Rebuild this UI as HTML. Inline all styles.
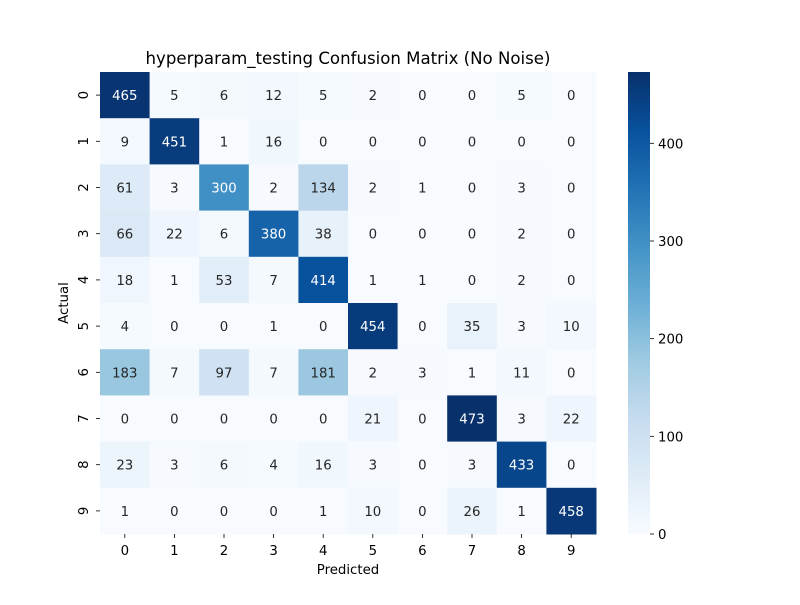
<!DOCTYPE html>
<html><head><meta charset="utf-8"><style>
body{margin:0;background:#fff;}
svg text{font-family:"DejaVu Sans","Liberation Sans",sans-serif;}
</style></head><body>
<svg id="chart" width="800" height="600" xmlns="http://www.w3.org/2000/svg">
<rect width="800" height="600" fill="#fff"/>
<text x="348" y="64" font-size="16.6" text-anchor="middle" fill="#000">hyperparam_testing Confusion Matrix (No Noise)</text>
<text x="348" y="574" font-size="13.3" text-anchor="middle" fill="#000">Predicted</text>
<text x="0" y="0" font-size="13.3" text-anchor="middle" fill="#000" transform="translate(68,303) rotate(-90)">Actual</text>
<g id="cells"></g><g id="axes"></g><g id="cbar"></g>
</svg>
<script>
const xLabels=["0","1","2","3","4","5","6","7","8","9"];
const yLabels=["0","1","2","3","4","5","6","7","8","9"];
const matrix=[
[465,5,6,12,5,2,0,0,5,0],
[9,451,1,16,0,0,0,0,0,0],
[61,3,300,2,134,2,1,0,3,0],
[66,22,6,380,38,0,0,0,2,0],
[18,1,53,7,414,1,1,0,2,0],
[4,0,0,1,0,454,0,35,3,10],
[183,7,97,7,181,2,3,1,11,0],
[0,0,0,0,0,21,0,473,3,22],
[23,3,6,4,16,3,0,3,433,0],
[1,0,0,0,1,10,0,26,1,458]];
const cbarTicks=[0,100,200,300,400];
const vmin=0,vmax=473;
const NS="http://www.w3.org/2000/svg";
const L=100,T=72,W=496,H=462;
const cw=W/xLabels.length,ch=H/yLabels.length;
const stops=["#f7fbff","#deebf7","#c6dbef","#9ecae1","#6baed6","#4292c6","#2171b5","#08519c","#08306b"].map(h=>[1,3,5].map(i=>parseInt(h.substr(i,2),16)));
function color(v){let t=Math.max(0,Math.min(1,(v-vmin)/(vmax-vmin)))*(stops.length-1);let i=Math.min(Math.floor(t),stops.length-2),f=t-i;const c=stops[i].map((a,k)=>Math.round(a+(stops[i+1][k]-a)*f));return `rgb(${c})`;}
function xPos(j){return L+j*cw;}
function yPos(i){return T+i*ch;}
function mk(tag,attrs,parent){const e=document.createElementNS(NS,tag);for(const k in attrs)e.setAttribute(k,attrs[k]);parent.appendChild(e);return e;}
const cells=document.getElementById('cells'),axes=document.getElementById('axes'),cb=document.getElementById('cbar');
matrix.forEach((row,i)=>row.forEach((v,j)=>{
 const r=mk('rect',{x:xPos(j),y:yPos(i),width:cw+0.5,height:ch+0.5,fill:color(v)},cells);
 
 
 const t=mk('text',{x:xPos(j)+cw/2,y:yPos(i)+ch/2+5,'font-size':13.3,'text-anchor':'middle',fill:v/vmax>0.5?'#fff':'#262626'},cells);
 t.textContent=v;
 
 
}));
xLabels.forEach((lab,j)=>{
 const x=xPos(j)+cw/2;
 mk('line',{x1:x,x2:x,y1:T+H,y2:T+H+4,stroke:'#000','stroke-width':0.8},axes);
 const t=mk('text',{x:x,y:T+H+21,'font-size':13.3,'text-anchor':'middle'},axes);t.textContent=lab;
 
 
});
yLabels.forEach((lab,i)=>{
 const y=yPos(i)+ch/2;
 mk('line',{x1:L-4,x2:L,y1:y,y2:y,stroke:'#000','stroke-width':0.8},axes);
 const t=mk('text',{x:0,y:0,'font-size':13.3,'text-anchor':'middle',transform:`translate(${L-12},${y}) rotate(-90)`},axes);t.textContent=lab;
 
 
});
const cx=628,cwid=22;
const grad=mk('linearGradient',{id:'g',x1:0,y1:1,x2:0,y2:0},mk('defs',{},cb));
stops.forEach((s,k)=>mk('stop',{offset:k/(stops.length-1),'stop-color':`rgb(${s})`},grad));
const bar=mk('rect',{x:cx,y:T,width:cwid,height:H,fill:'url(#g)'},cb);


function cy(v){return T+H-(v-vmin)/(vmax-vmin)*H;}
cbarTicks.forEach(v=>{
 const y=cy(v);
 mk('line',{x1:cx+cwid,x2:cx+cwid+4,y1:y,y2:y,stroke:'#000','stroke-width':0.8},cb);
 const t=mk('text',{x:cx+cwid+8,y:y+5,'font-size':13.3},cb);t.textContent=v;
 
 
});
</script>
</body></html>
